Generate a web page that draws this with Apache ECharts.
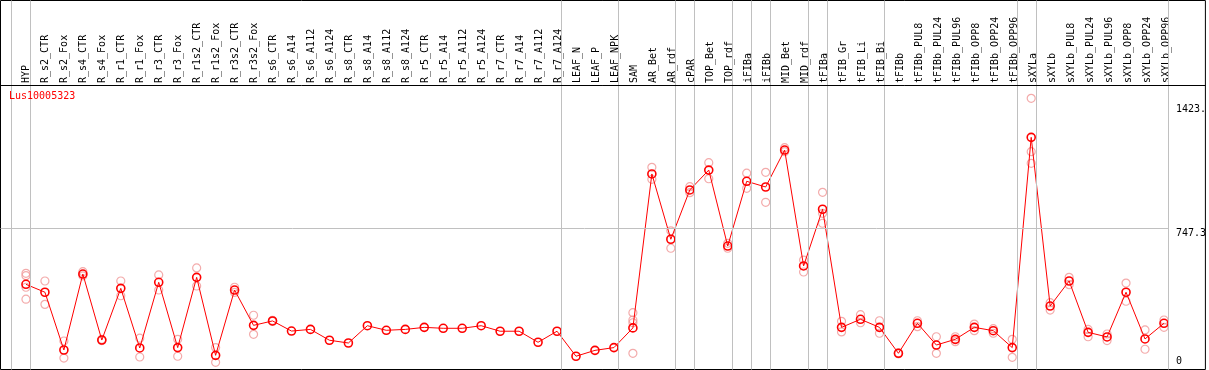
<!DOCTYPE html>
<html>
<head>
<meta charset="utf-8">
<script src="https://cdn.jsdelivr.net/npm/echarts@6/dist/echarts.min.js"></script>
<style>
  html, body { margin: 0; padding: 0; background: #fff; }
  #chart { width: 1209px; height: 370px; }
</style>
</head>
<body>
<div id="chart"></div>
<script>
// ---------------- data ----------------
const title = 'Lus10005323';
const categories = [
  'HYP', 'R_s2_CTR', 'R_s2_Fox', 'R_s4_CTR', 'R_s4_Fox', 'R_r1_CTR', 'R_r1_Fox', 'R_r3_CTR', 'R_r3_Fox',
  'R_r1s2_CTR', 'R_r1s2_Fox', 'R_r3s2_CTR', 'R_r3s2_Fox', 'R_s6_CTR', 'R_s6_A14', 'R_s6_A112', 'R_s6_A124',
  'R_s8_CTR', 'R_s8_A14', 'R_s8_A112', 'R_s8_A124', 'R_r5_CTR', 'R_r5_A14', 'R_r5_A112', 'R_r5_A124',
  'R_r7_CTR', 'R_r7_A14', 'R_r7_A112', 'R_r7_A124', 'LEAF_N', 'LEAF_P', 'LEAF_NPK', 'SAM', 'AR_Bet', 'AR_rdf',
  'cPAR', 'TOP_Bet', 'TOP_rdf', 'iFIBa', 'iFIBb', 'MID_Bet', 'MID_rdf', 'tFIBa', 'tFIB_Gr', 'tFIB_Li', 'tFIB_Bi',
  'tFIBb', 'tFIBb_PUL8', 'tFIBb_PUL24', 'tFIBb_PUL96', 'tFIBb_OPP8', 'tFIBb_OPP24', 'tFIBb_OPP96',
  'sXYLa', 'sXYLb', 'sXYLb_PUL8', 'sXYLb_PUL24', 'sXYLb_PUL96', 'sXYLb_OPP8', 'sXYLb_OPP24', 'sXYLb_OPP96'
];
const means = [
  444, 401, 87, 500, 141, 422, 98, 455, 100,
  482, 58, 413, 221, 245, 190, 199, 140,
  125, 219, 194, 199, 210, 205, 205, 219,
  189, 189, 129, 189, 53, 85, 100, 207, 1044, 689,
  957, 1065, 652, 1004, 973, 1174, 544, 852, 210, 254, 210,
  69, 232, 114, 145, 210, 192, 100,
  1243, 326, 462, 183, 158, 401, 147, 232
];
const replicates = [
  [504, 491, 428, 363], [462, 335], [136, 43], [513, 490], [145, 138], [462, 382], [151, 49], [495, 413], [145, 53],
  [533, 435], [100, 20], [428, 400], [276, 172], [248, 242], [], [], [],
  [], [], [], [], [], [], [], [],
  [], [], [], [], [], [], [], [290, 250, 235, 69], [1080, 1015], [735, 640],
  [975, 942], [1105, 1018], [667, 640], [1048, 966], [1053, 890], [1187, 1165], [576, 511], [944, 830, 776], [243, 185], [279, 235], [246, 178],
  [72, 66], [246, 214], [159, 69], [159, 132], [228, 192], [203, 178], [145, 47],
  [1455, 1165, 1102], [344, 304], [482, 442], [199, 159], [174, 138], [451, 352], [196, 91], [250, 210]
];
// index of the last category of each group (-1 = left edge before the first group)
const groupEnds = [-1, 0, 28, 31, 34, 35, 37, 38, 39, 41, 42, 45, 52, 53, 60];
const yTickValues = [747.3, 1423];
const yTickLabels = ['747.3', '1423.'];
const yZeroValue = [0];
const yZeroLabel = ['0'];
const refLineValue = 747.3;

// ---------------- layout ----------------
const MONO = 'DejaVu Sans Mono';
const X_MIN = -1.34211, X_MAX = 62.18421;
const Y_MIN = -19.03, Y_MAX = 1986.85;
const BOUND_OFF = 0.2368;
const HEADER_LINE = 1524.8;

const repData = [];
replicates.forEach((arr, i) => arr.forEach(v => repData.push([i, v])));
const meanData = means.map((v, i) => [i, v]);

const vLines = groupEnds.map(g => ({ xAxis: g + BOUND_OFF }));
const markData = vLines.concat([
  [{ coord: [X_MIN, refLineValue] }, { coord: [groupEnds[groupEnds.length - 1] + BOUND_OFF, refLineValue] }],
  { yAxis: HEADER_LINE, lineStyle: { color: '#000' } }
]);

const chart = echarts.init(document.getElementById('chart'), null, { renderer: 'canvas' });
chart.setOption({
  animation: false,
  backgroundColor: '#fff',
  title: {
    text: title, left: 9, top: 91, padding: 0,
    textStyle: { color: '#ff0000', fontFamily: MONO, fontSize: 10, fontWeight: 'normal' }
  },
  grid: [
    { left: 0.5, top: 0.5, width: 1207, height: 369, show: true, borderColor: '#000', borderWidth: 1, backgroundColor: 'transparent' },
    { left: 26, top: 86, width: 1140, height: 1, show: false }
  ],
  xAxis: [
    { gridIndex: 0, type: 'value', min: X_MIN, max: X_MAX, show: false },
    {
      gridIndex: 1, type: 'category', data: categories, boundaryGap: false, position: 'top',
      axisLine: { show: false }, axisTick: { show: false }, splitLine: { show: false },
      axisLabel: { rotate: 90, interval: 0, margin: 3, fontFamily: MONO, fontSize: 10, color: '#000' }
    }
  ],
  yAxis: [
    {
      gridIndex: 0, type: 'value', min: Y_MIN, max: Y_MAX, position: 'right',
      axisLine: { show: false }, axisTick: { show: false }, splitLine: { show: false },
      axisLabel: {
        inside: true, align: 'left', margin: 29.5, verticalAlign: 'top',
        customValues: yTickValues,
        formatter: v => yTickLabels[yTickValues.indexOf(v)] ?? String(v),
        fontFamily: MONO, fontSize: 10, color: '#000'
      }
    },
    {
      gridIndex: 0, type: 'value', min: Y_MIN, max: Y_MAX, position: 'right',
      axisLine: { show: false }, axisTick: { show: false }, splitLine: { show: false },
      axisLabel: {
        inside: true, align: 'left', margin: 29.5, verticalAlign: 'bottom',
        customValues: yZeroValue,
        formatter: v => yZeroLabel[yZeroValue.indexOf(v)] ?? String(v),
        fontFamily: MONO, fontSize: 10, color: '#000'
      }
    },
    { gridIndex: 1, type: 'value', show: false }
  ],
  series: [
    {
      name: 'grid-lines', type: 'line', xAxisIndex: 0, yAxisIndex: 0, data: [], z: 1, silent: true,
      markLine: {
        silent: true, symbol: ['none', 'none'], label: { show: false }, animation: false,
        lineStyle: { color: '#c0c0c0', width: 1, type: 'solid' },
        emphasis: { disabled: true },
        data: markData
      }
    },
    {
      name: 'replicates', type: 'scatter', xAxisIndex: 0, yAxisIndex: 0, data: repData, z: 2, silent: true,
      symbol: 'circle', symbolSize: 8,
      itemStyle: { color: 'rgba(0,0,0,0)', borderColor: 'rgb(240,150,150)', borderWidth: 1.2 }
    },
    {
      name: title, type: 'line', xAxisIndex: 0, yAxisIndex: 0, data: meanData, z: 3, silent: true,
      symbol: 'circle', symbolSize: 8, showAllSymbol: true,
      lineStyle: { color: '#ff0000', width: 1 },
      itemStyle: { color: 'rgba(0,0,0,0)', borderColor: '#ff0000', borderWidth: 1.6 }
    }
  ]
});
</script>
</body>
</html>
